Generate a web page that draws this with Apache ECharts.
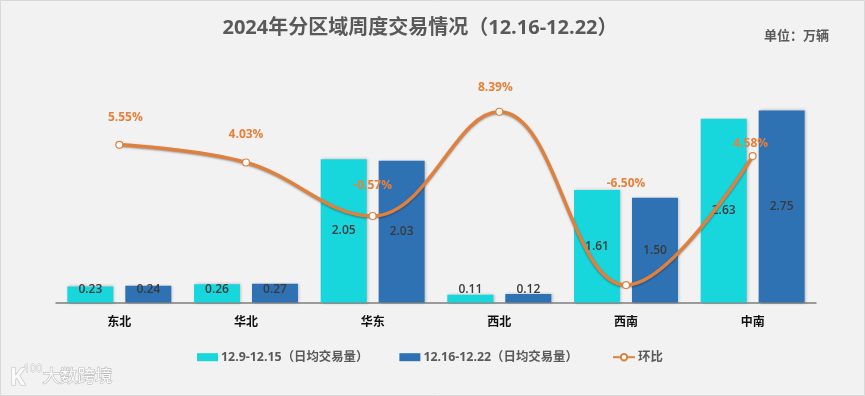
<!DOCTYPE html>
<html><head><meta charset="utf-8">
<script src="https://cdn.jsdelivr.net/npm/echarts@6/dist/echarts.min.js"></script>
<style>html,body{margin:0;padding:0;background:#f2f2f2}#c{width:865px;height:396px}</style>
</head><body><div id="c"></div>
<script>
const categories = ['东北','华北','华东','西北','西南','中南'];
const prevWeek = [0.23,0.26,2.05,0.11,1.61,2.63];
const thisWeek = [0.24,0.27,2.03,0.12,1.50,2.75];
const ratio = [5.55,4.03,-0.57,8.39,-6.50,4.58];
const prevName = '12.9-12.15（日均交易量）';
const thisName = '12.16-12.22（日均交易量）';
const ratioName = '环比';
const ratioLabelOffsets = [[6,-12],[0,-13],[0,-15],[-4,-9],[0,-86],[-2,3]];
const FONT = '"Open Sans","Noto Sans CJK SC",sans-serif';
const chart = echarts.init(document.getElementById('c'));
const barLabel = v => ({
  show:true, position: v < 0.5 ? 'insideBottom' : 'inside', distance:7,
  formatter:p=>p.value.toFixed(2), color:'#3a3a3a', fontSize:12, fontWeight:600, fontFamily:FONT
});
const barData = arr => arr.map(v=>({value:v,label:barLabel(v)}));
const barShadow = {shadowColor:'rgba(0,0,0,0.25)',shadowBlur:3,shadowOffsetX:1,shadowOffsetY:0};
const legendText = {fontSize:12.4,fontWeight:'bold',color:'#595959',fontFamily:FONT,padding:[0,0,0,-2]};
chart.setOption({
  backgroundColor:'#f2f2f2',
  animation:false,
  title:[
    {text:'2024年分区域周度交易情况（12.16-12.22）',left:415,top:13,textAlign:'center',
     textStyle:{fontSize:20,fontWeight:'bold',color:'#595959',fontFamily:FONT}},
    {text:'单位：万辆',left:759,top:25,textStyle:{fontSize:13,fontWeight:'bold',color:'#595959',fontFamily:FONT}}
  ],
  legend:[{
    left:192,top:346,itemWidth:21,itemHeight:8,itemGap:31,
    data:[{name:prevName,icon:'rect'},{name:thisName,icon:'rect'}],
    textStyle:legendText
  },{
    left:607,top:346,itemWidth:22,itemHeight:8,
    data:[{name:ratioName}],
    textStyle:legendText
  }],
  grid:{left:56,right:49,top:93,bottom:93.5,containLabel:false},
  xAxis:{type:'category',data:categories,
    axisLine:{lineStyle:{color:'#7f7f7f',width:1.5}},axisTick:{show:false},
    axisLabel:{margin:14,fontSize:12,fontWeight:'bold',color:'#111',fontFamily:FONT}},
  yAxis:[
    {type:'value',min:0,max:3,show:false,splitLine:{show:false}},
    {type:'value',min:-8,max:10,show:false,splitLine:{show:false}}
  ],
  series:[
    {name:prevName,type:'bar',barWidth:46,barGap:'26%',data:barData(prevWeek),
     itemStyle:Object.assign({color:'#17d6dc'},barShadow)},
    {name:thisName,type:'bar',barWidth:46,data:barData(thisWeek),
     itemStyle:Object.assign({color:'#2e72b4'},barShadow)},
    {name:ratioName,type:'line',yAxisIndex:1,smooth:0.4,z:5,symbol:'circle',symbolSize:7,
     data:ratio.map((v,i)=>({value:v,label:{offset:ratioLabelOffsets[i]}})),
     lineStyle:{color:'#e0803f',width:3.5,shadowColor:'rgba(0,0,0,0.35)',shadowBlur:2,shadowOffsetY:1},
     itemStyle:{color:'#fff',borderColor:'#e0803f',borderWidth:1.2},
     label:{show:true,position:'top',formatter:p=>p.value.toFixed(2)+'%',color:'#e8803a',
       fontSize:12,fontWeight:'bold',fontFamily:FONT}}
  ],
  graphic:[
    {type:'rect',silent:true,shape:{x:0.5,y:0.5,width:864,height:395},style:{fill:'none',stroke:'#d9d9d9',lineWidth:1}},
    {type:'text',silent:true,left:42,top:368,style:{text:'大数跨境',fontSize:17.5,fontFamily:FONT,fill:'#fafafa',stroke:'#bdbdbd',lineWidth:1.2}},
    {type:'text',silent:true,left:9,top:366,style:{text:'K',fontSize:24,fontWeight:'bold',fontFamily:FONT,fill:'#fafafa',stroke:'#bdbdbd',lineWidth:1.2}},
    {type:'text',silent:true,left:23,top:363,style:{text:'100',fontSize:11,fontFamily:FONT,fill:'#fafafa',stroke:'#bdbdbd',lineWidth:0.8}}
  ]
});
</script></body></html>
